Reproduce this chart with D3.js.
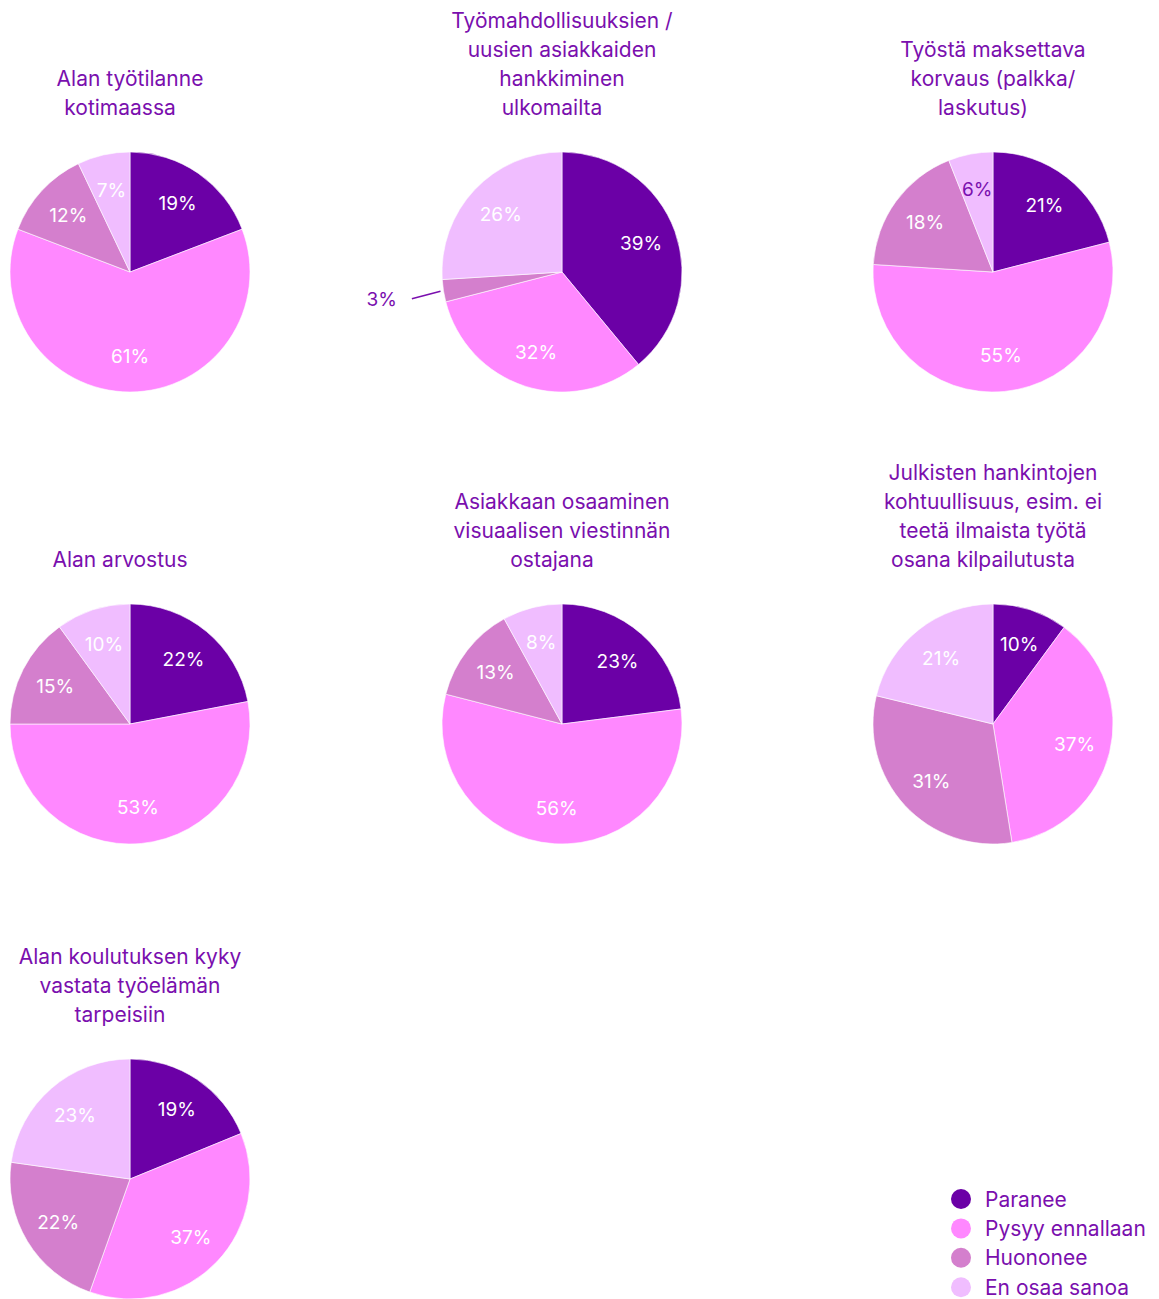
<!DOCTYPE html>
<html>
<head>
<meta charset="utf-8">
<script src="https://cdn.jsdelivr.net/npm/d3@7"></script>
<style>
  body { margin: 0; background: #fff; }
  text { font-family: Inter, Roboto, "Noto Sans", sans-serif; }
</style>
</head>
<body>
<div id="chart"></div>
<script>
// categories and colours
var categories = ["Paranee", "Pysyy ennallaan", "Huononee", "En osaa sanoa"];
var colors = ["#6b00a6", "#ff88ff", "#d47fcd", "#f0bdff"];

// chart titles (one entry per line)
var titles = [
  ["Alan työtilanne", "kotimaassa"],
  ["Työmahdollisuuksien /", "uusien asiakkaiden", "hankkiminen", "ulkomailta"],
  ["Työstä maksettava", "korvaus (palkka/", "laskutus)"],
  ["Alan arvostus"],
  ["Asiakkaan osaaminen", "visuaalisen viestinnän", "ostajana"],
  ["Julkisten hankintojen", "kohtuullisuus, esim. ei", "teetä ilmaista työtä", "osana kilpailutusta"],
  ["Alan koulutuksen kyky", "vastata työelämän", "tarpeisiin"]
];

// series values (percent), order: Paranee, Pysyy, Huononee, En osaa
var paranee  = [19, 39, 21, 22, 23, 10, 19];
var pysyy    = [61, 32, 55, 53, 56, 37, 37];
var huononee = [12,  3, 18, 15, 13, 31, 22];
var enosaa   = [ 7, 26,  6, 10,  8, 21, 23];

var W = 1159, H = 1299;
var radius = 120, labelR = 84;
var colX = [130, 562, 993];
var rowY = [272, 724, 1179];
var titleColor = "#7a0fae";

var svg = d3.select("#chart").append("svg")
  .attr("width", W)
  .attr("height", H);

var pie = d3.pie().sort(null).value(function(d) { return d.value; });
var arc = d3.arc().innerRadius(0).outerRadius(radius);
var labelArc = d3.arc().innerRadius(labelR).outerRadius(labelR);

titles.forEach(function(t, i) {
  var cx = colX[i % 3], cy = rowY[Math.floor(i / 3)];
  var data = [paranee[i], pysyy[i], huononee[i], enosaa[i]].map(function(v, k) {
    return {value: v, cat: categories[k], k: k};
  });

  var g = svg.append("g").attr("transform", "translate(" + cx + "," + cy + ")");

  // title; the last line is nudged left like in the original
  var n = t.length;
  t.forEach(function(line, j) {
    g.append("text")
      .attr("x", j === n - 1 ? -10 : 0)
      .attr("y", -157 - (n - 1 - j) * 29)
      .attr("text-anchor", "middle")
      .attr("fill", titleColor)
      .style("font-size", "21px")
      .text(line);
  });

  var arcs = pie(data);
  g.selectAll("path")
    .data(arcs)
    .enter().append("path")
    .attr("d", arc)
    .attr("fill", function(d) { return colors[d.data.k]; })
    .attr("stroke", "#fff")
    .attr("stroke-width", 0.6);

  arcs.forEach(function(d) {
    var v = d.data.value;
    if (v <= 3) {
      // outside label with leader line
      var mid = (d.startAngle + d.endAngle) / 2;
      var p1 = [Math.sin(mid) * (radius + 3), -Math.cos(mid) * (radius + 3)];
      var p2 = [Math.sin(mid) * (radius + 32), -Math.cos(mid) * (radius + 32) + 3];
      g.append("line")
        .attr("x1", p1[0]).attr("y1", p1[1])
        .attr("x2", p2[0]).attr("y2", p2[1])
        .attr("stroke", titleColor)
        .attr("stroke-width", 1.5);
      g.append("text")
        .attr("x", p2[0] - 15)
        .attr("y", p2[1])
        .attr("dy", "0.36em")
        .attr("text-anchor", "end")
        .attr("fill", titleColor)
        .style("font-size", "19px")
        .text(v + "%");
    } else {
      var c = labelArc.centroid(d);
      g.append("text")
        .attr("x", c[0])
        .attr("y", c[1])
        .attr("dy", "0.36em")
        .attr("text-anchor", "middle")
        .attr("fill", v <= 6 ? titleColor : "#fff")
        .style("font-size", "19px")
        .text(v + "%");
    }
  });
});

// legend
var legend = svg.append("g").attr("transform", "translate(961,1199)");
categories.forEach(function(c, k) {
  legend.append("circle")
    .attr("cx", 0)
    .attr("cy", k * 29.4)
    .attr("r", 10)
    .attr("fill", colors[k]);
  legend.append("text")
    .attr("x", 24)
    .attr("y", k * 29.4)
    .attr("dy", "0.36em")
    .attr("fill", titleColor)
    .style("font-size", "21px")
    .text(c);
});
</script>
</body>
</html>
